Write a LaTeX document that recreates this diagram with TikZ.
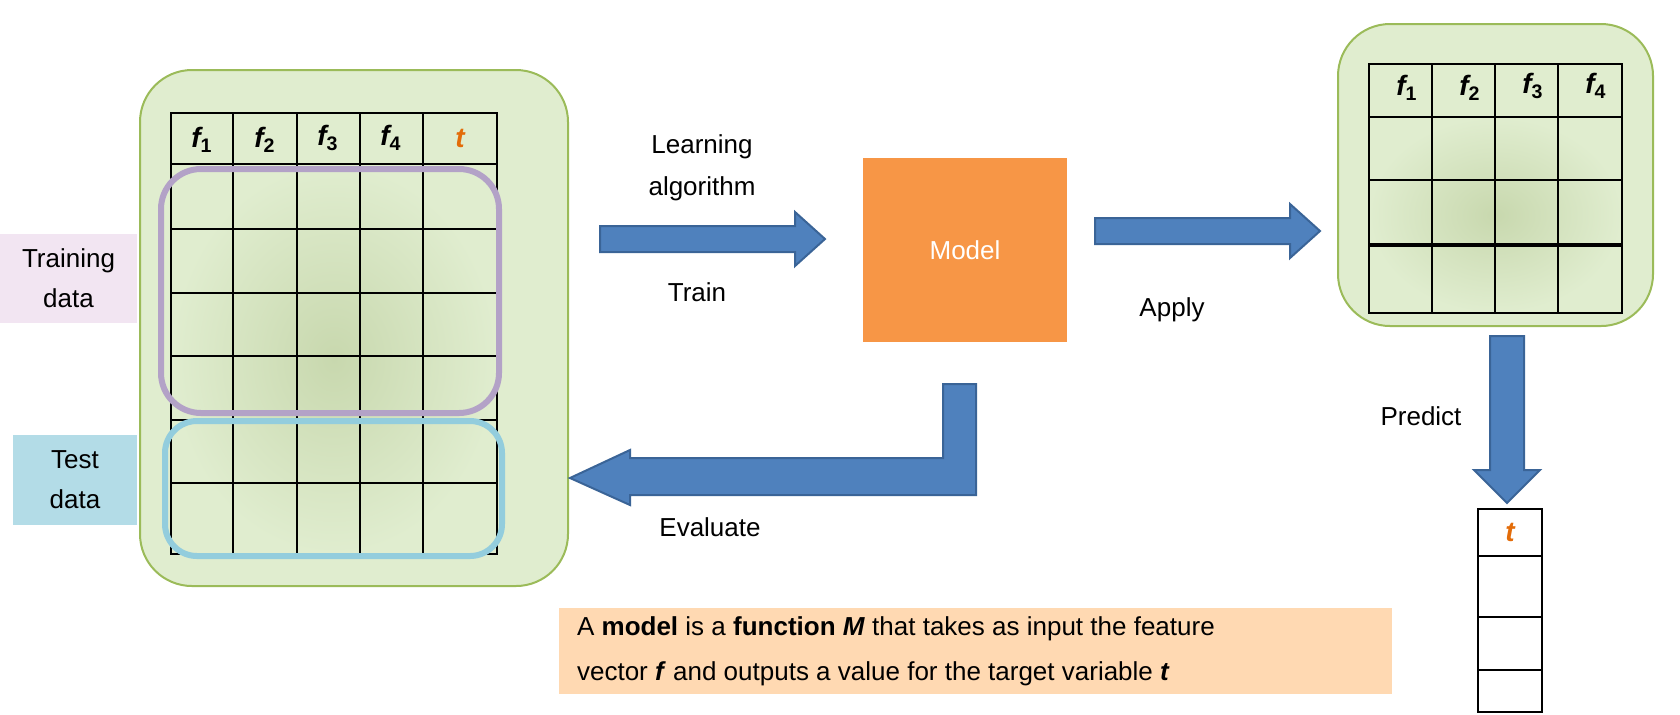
\documentclass[tikz,border=0pt]{standalone}
\usepackage{fontspec}
\setmainfont{Liberation Sans}
\begin{document}
\begin{tikzpicture}[x=0.5pt,y=-0.5pt,
  lbl/.style={font=\fontsize{13}{20}\selectfont, align=center},
  green box/.style={draw=boxg, line width=1pt, fill=cellg, rounded corners=26pt},
  grid line/.style={black, line width=1pt},
  barrow/.style={fill=arrowb, draw=arrowd, line width=1pt},
  hd/.style={font=\fontsize{14}{15}\selectfont\bfseries\itshape}]
\definecolor{cellg}{HTML}{E0EDCF}
\definecolor{cellc}{HTML}{C8D8AE}
\definecolor{boxg}{HTML}{9BBB59}
\definecolor{arrowb}{HTML}{4F81BD}
\definecolor{arrowd}{HTML}{3A6497}
\definecolor{orng}{HTML}{E36C09}
\definecolor{purp}{HTML}{B3A2C7}
\definecolor{cyn}{HTML}{93CDDD}
\definecolor{modelc}{HTML}{F79646}
\useasboundingbox (0,0) rectangle (1680,714);
% left data
\draw[green box] (140,70) rectangle (568,586);
\shade[inner color=cellc, outer color=cellg] (171,164) rectangle (497,554);
\draw[grid line] (171,113) rectangle (497,554);
\foreach \x in {233,297,360,423} \draw[grid line] (\x,113) -- (\x,554);
\foreach \y in {164,229,293,356,420,483} \draw[grid line] (171,\y) -- (497,\y);
\node[hd] (h1) at (202,140) {f\textsubscript{\upshape 1}};
\node[hd] (h2) at (265,140) {f\textsubscript{\upshape 2}};
\node[hd] (h3) at (328,138) {f\textsubscript{\upshape 3}};
\node[hd] (h4) at (391,138) {f\textsubscript{\upshape 4}};
\node[hd, text=orng] (ht) at (460,138) {t};
\draw[line width=3pt, draw=purp, rounded corners=20pt] (161,169) rectangle (499,413);
\draw[line width=3pt, draw=cyn, rounded corners=16pt] (165,421) rectangle (502,556);
\node[lbl, fill=violet!10, minimum width=68.5pt, minimum height=44.5pt, inner sep=0pt] (train) at (68.5,278.5) {Training\\data};
\node[lbl, fill=cyn!70!white, minimum width=62pt, minimum height=45pt, inner sep=0pt] (test) at (75,480) {Test\\data};
% model
\node[fill=modelc, minimum width=102pt, minimum height=92pt, text=white, font=\fontsize{13}{15}\selectfont] (model) at (965,250) {Model};
% arrows
\draw[barrow] (600,226) -- (795,226) -- (795,212) -- (825,239) -- (795,266) -- (795,252) -- (600,252) -- cycle;
\draw[barrow] (1095,218) -- (1290,218) -- (1290,204) -- (1320,231) -- (1290,258) -- (1290,244) -- (1095,244) -- cycle;
\draw[barrow] (943,384) -- (976,384) -- (976,495) -- (630,495) -- (630,505) -- (570,478) -- (630,450) -- (630,458) -- (943,458) -- cycle;
\draw[barrow] (1490,336) -- (1524,336) -- (1524,470) -- (1540,470) -- (1507,503) -- (1474,470) -- (1490,470) -- cycle;
\node[lbl, font=\fontsize{13}{21}\selectfont] (la) at (702,168) {Learning\\algorithm};
\node[lbl] (tr) at (697,292) {Train};
\node[lbl] (ap) at (1172,310) {Apply};
\node[lbl] (ev) at (710,527) {Evaluate};
\node[lbl] (pr) at (1421,416) {Predict};
% right data
\draw[green box] (1338,24) rectangle (1653,326);
\shade[inner color=cellc, outer color=cellg] (1369,117) rectangle (1622,313);
\draw[grid line] (1369,64) rectangle (1622,313);
\foreach \x in {1432,1495,1558} \draw[grid line] (\x,64) -- (\x,313);
\foreach \y in {117,180} \draw[grid line] (1369,\y) -- (1622,\y);
\draw[black, line width=2pt] (1369,245) -- (1622,245);
\node[hd] (g1) at (1407,88) {f\textsubscript{\upshape 1}};
\node[hd] (g2) at (1470,88) {f\textsubscript{\upshape 2}};
\node[hd] (g3) at (1533,86) {f\textsubscript{\upshape 3}};
\node[hd] (g4) at (1596,86) {f\textsubscript{\upshape 4}};
% t column
\draw[grid line] (1478,509) rectangle (1542,712);
\foreach \y in {556,617,670} \draw[grid line] (1478,\y) -- (1542,\y);
\node[hd, text=orng] (tt) at (1510,532) {t};
% note
\node[fill=orange!30!white, minimum width=416.5pt, minimum height=43pt, inner sep=0pt] (nb) at (975.5,651) {};
\node[font=\fontsize{13}{22.5}\selectfont, align=left, anchor=west] (note) at (570,651) {A \textbf{model} is a \textbf{function \textit{M}} that takes as input the feature\\vector \textbf{\textit{f}} and outputs a value for the target variable \textbf{\textit{t}}};
\end{tikzpicture}
\end{document}
